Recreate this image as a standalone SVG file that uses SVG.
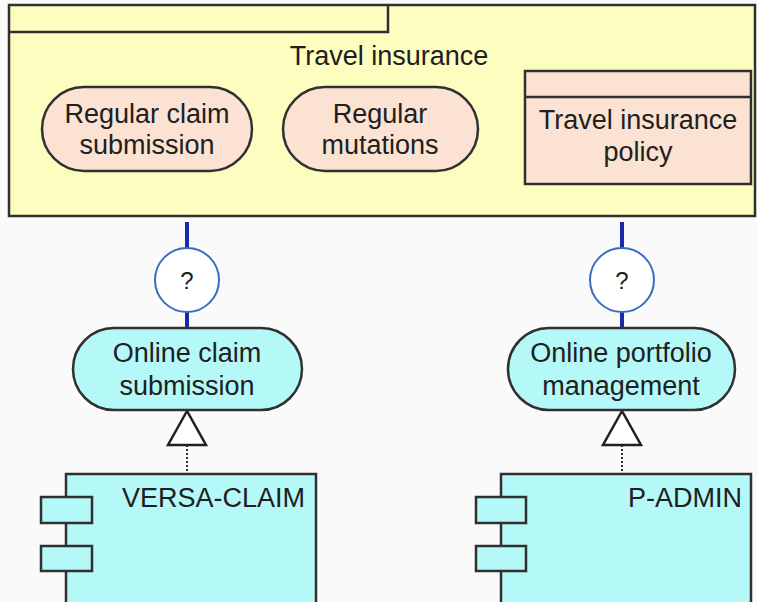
<svg xmlns="http://www.w3.org/2000/svg" width="757" height="602" viewBox="0 0 757 602">
<style>
text{font-family:"Liberation Sans",Arial,sans-serif;font-size:27px;fill:#202020;text-anchor:middle}
.box{stroke:#303030;stroke-width:2.5}
.peach{fill:#fbe2d2}
.cyan{fill:#b4f8f8}
.blue{stroke:#1a2aa6;stroke-width:4}
</style>
<rect width="757" height="602" fill="#fafafa"/>
<g id="travel-insurance">
<rect x="9" y="5" width="746" height="211" fill="#fdfdc0" class="box"/>
<path d="M9 32 H388 V5" fill="none" class="box"/>
<text x="389" y="65">Travel insurance</text>
</g>
<g id="regular-claim-submission">
<rect x="42" y="87" width="210" height="84" rx="42" class="box peach"/>
<text x="147" y="123">Regular claim</text>
<text x="147" y="154">submission</text>
</g>
<g id="regular-mutations">
<rect x="283" y="87" width="195" height="84" rx="42" class="box peach"/>
<text x="380" y="123">Regular</text>
<text x="380" y="154">mutations</text>
</g>
<g id="travel-insurance-policy">
<rect x="525" y="71" width="226" height="113" class="box peach"/>
<line x1="525" y1="97" x2="751" y2="97" class="box"/>
<text x="638" y="129">Travel insurance</text>
<text x="638" y="161">policy</text>
</g>
<g id="connectors">
<line x1="187" y1="222" x2="187" y2="248" class="blue"/>
<line x1="187" y1="312" x2="187" y2="328" class="blue"/>
<line x1="622" y1="222" x2="622" y2="248" class="blue"/>
<line x1="622" y1="312" x2="622" y2="328" class="blue"/>
<line x1="187" y1="445" x2="187" y2="474" stroke="#303030" stroke-width="2" stroke-dasharray="2,2"/>
<path d="M187 411 L168 445 H206 Z" fill="#ffffff" stroke="#202020" stroke-width="2.5"/>
<line x1="622" y1="445" x2="622" y2="474" stroke="#303030" stroke-width="2" stroke-dasharray="2,2"/>
<path d="M622 411 L603 445 H641 Z" fill="#ffffff" stroke="#202020" stroke-width="2.5"/>
</g>
<g id="junction-left">
<circle cx="187" cy="280" r="32" fill="#ffffff" stroke="#3a6cc0" stroke-width="2"/>
<text x="187" y="289" style="font-size:24px">?</text>
</g>
<g id="junction-right">
<circle cx="622" cy="280" r="32" fill="#ffffff" stroke="#3a6cc0" stroke-width="2"/>
<text x="622" y="289" style="font-size:24px">?</text>
</g>
<g id="online-claim-submission">
<rect x="73" y="328" width="229" height="82" rx="41" class="box cyan"/>
<text x="187" y="362">Online claim</text>
<text x="187" y="395">submission</text>
</g>
<g id="online-portfolio-management">
<rect x="508" y="328" width="227" height="82" rx="41" class="box cyan"/>
<text x="621" y="362">Online portfolio</text>
<text x="621" y="395">management</text>
</g>
<g id="versa-claim">
<rect x="66" y="474" width="250" height="140" class="box cyan"/>
<rect x="41" y="497" width="51" height="26" class="box cyan"/>
<rect x="41" y="546" width="51" height="25" class="box cyan"/>
<text x="305" y="507" style="text-anchor:end">VERSA-CLAIM</text>
</g>
<g id="p-admin">
<rect x="501" y="474" width="250" height="140" class="box cyan"/>
<rect x="476" y="497" width="50" height="26" class="box cyan"/>
<rect x="476" y="546" width="50" height="25" class="box cyan"/>
<text x="742" y="507" style="text-anchor:end">P-ADMIN</text>
</g>
</svg>
